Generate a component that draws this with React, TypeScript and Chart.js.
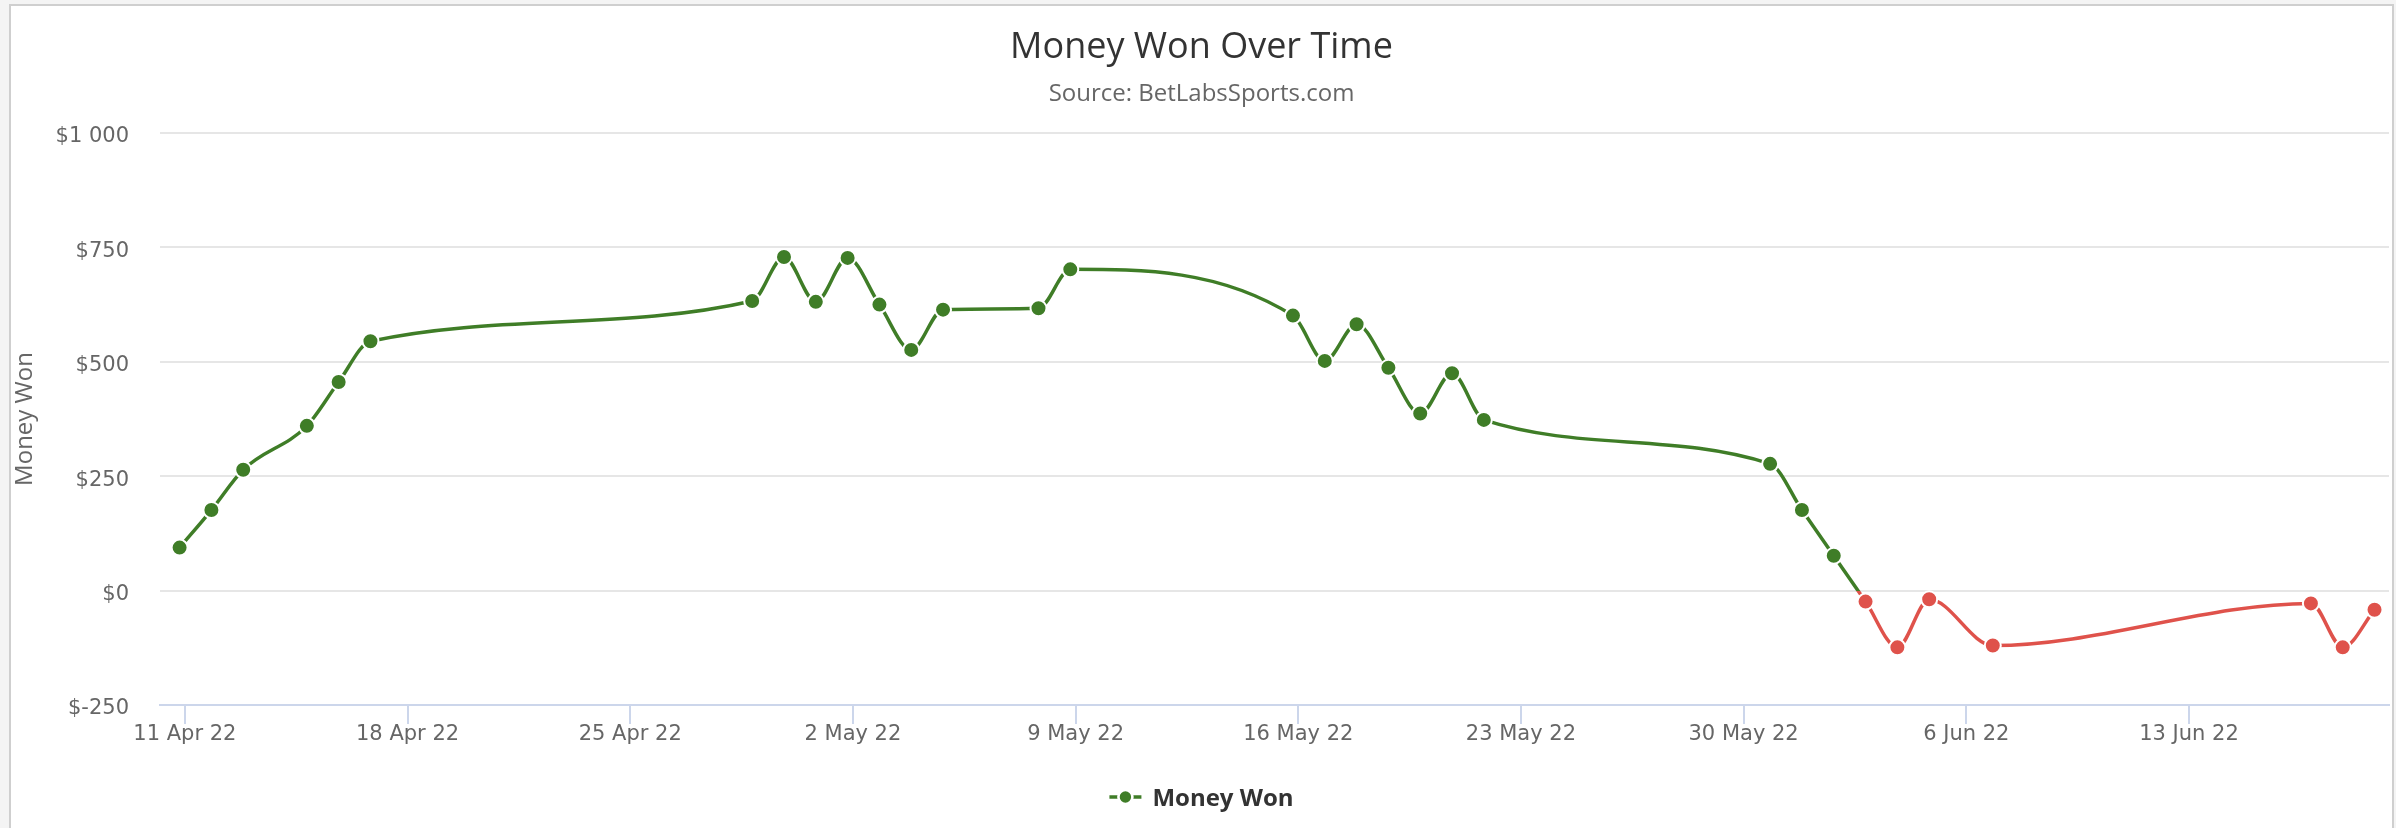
import React, { useEffect, useRef } from "react";
import { Chart, registerables } from "chart.js";

Chart.register(...registerables);

// ---- Data ----
const dates: string[] = [
  "2022-04-11", "2022-04-12", "2022-04-13", "2022-04-15", "2022-04-16", "2022-04-17",
  "2022-04-29", "2022-04-30", "2022-05-01", "2022-05-02", "2022-05-03", "2022-05-04",
  "2022-05-05", "2022-05-08", "2022-05-09", "2022-05-16", "2022-05-17", "2022-05-18",
  "2022-05-19", "2022-05-20", "2022-05-21", "2022-05-22", "2022-05-31", "2022-06-01",
  "2022-06-02", "2022-06-03", "2022-06-04", "2022-06-05", "2022-06-07", "2022-06-17",
  "2022-06-18", "2022-06-19",
];

const moneyWon: number[] = [
  94, 176, 264, 360, 456, 545,
  633, 729, 631, 727, 625, 526,
  614, 617, 702, 601, 502, 582,
  487, 387, 475, 373, 277, 176,
  76, -24, -124, -19, -120, -28,
  -124, -42,
];

const xTickLabels: string[] = [
  "11 Apr 22", "18 Apr 22", "25 Apr 22", "2 May 22", "9 May 22",
  "16 May 22", "23 May 22", "30 May 22", "6 Jun 22", "13 Jun 22",
];

const yTickValues: number[] = [-250, 0, 250, 500, 750, 1000];
const yTickLabels: string[] = ["$-250", "$0", "$250", "$500", "$750", "$1 000"];

const TITLE = "Money Won Over Time";
const SUBTITLE = "Source: BetLabsSports.com";
const SERIES_NAME = "Money Won";
const Y_TITLE = "Money Won";

// ---- Style constants ----
const GREEN = "#3f7d27";
const RED = "#df524b";
const TICK_SHIFT_DAYS = 4 / 24; // local-midnight ticks vs. UTC data timestamps
const X_MIN = -0.616;
const X_MAX = 69.455;
const VISIBLE_W = 2381;
const CANVAS_W = 2388;
const CANVAS_H = 822;

export default function App() {
  const canvasRef = useRef<HTMLCanvasElement | null>(null);

  useEffect(() => {
    const canvas = canvasRef.current;
    if (!canvas) return;

    const day0 = Date.parse(dates[0]);
    const points = dates.map((d, i) => ({
      x: (Date.parse(d) - day0) / 86400000,
      y: moneyWon[i],
    }));

    const legendPlugin = {
      id: "hcLegend",
      afterDraw(chart: any) {
        const ctx: CanvasRenderingContext2D = chart.ctx;
        ctx.save();
        ctx.font = "bold 24px 'Open Sans'";
        const tw = ctx.measureText(SERIES_NAME).width;
        const total = 43 + tw;
        const tb = chart.titleBlock;
        const cx = tb ? (tb.left + tb.right) / 2 : VISIBLE_W / 2;
        const x0 = cx - total / 2;
        const cy = 791;
        ctx.strokeStyle = GREEN;
        ctx.lineWidth = 3.5;
        ctx.beginPath();
        ctx.moveTo(x0, cy);
        ctx.lineTo(x0 + 32, cy);
        ctx.stroke();
        ctx.beginPath();
        ctx.arc(x0 + 16, cy, 7, 0, Math.PI * 2);
        ctx.fillStyle = GREEN;
        ctx.fill();
        ctx.lineWidth = 2.6;
        ctx.strokeStyle = "#ffffff";
        ctx.stroke();
        ctx.fillStyle = "#333333";
        ctx.textAlign = "left";
        ctx.textBaseline = "alphabetic";
        ctx.fillText(SERIES_NAME, x0 + 43, 800);
        ctx.restore();
      },
    };

    const tickFont = { family: "'DejaVu Sans'", size: 21 };

    const chart = new Chart(canvas, {
      type: "line",
      data: {
        datasets: [
          {
            label: SERIES_NAME,
            data: points,
            borderWidth: 3.5,
            cubicInterpolationMode: "monotone",
            fill: false,
            clip: 12,
            borderColor: (c: any) => {
              const ch = c.chart;
              const area = ch.chartArea;
              if (!area || !ch.scales || !ch.scales.y) return GREEN;
              const y0 = ch.scales.y.getPixelForValue(0);
              const g = ch.ctx.createLinearGradient(0, area.top, 0, area.bottom);
              const f = Math.min(1, Math.max(0, (y0 - area.top) / (area.bottom - area.top)));
              g.addColorStop(0, GREEN);
              g.addColorStop(f, GREEN);
              g.addColorStop(f, RED);
              g.addColorStop(1, RED);
              return g;
            },
            pointRadius: 8,
            pointHoverRadius: 8,
            pointBorderWidth: 2,
            pointHoverBorderWidth: 2,
            pointBorderColor: "#ffffff",
            pointBackgroundColor: (c: any) =>
              c.parsed && c.parsed.y < 0 ? RED : GREEN,
          } as any,
        ],
      },
      options: {
        animation: false,
        responsive: false,
        events: [],
        layout: { padding: { top: 0, left: 0, right: CANVAS_W - VISIBLE_W, bottom: 83 } },
        plugins: {
          legend: { display: false },
          tooltip: { enabled: false },
          title: {
            display: true,
            text: TITLE,
            color: "#333333",
            font: { family: "'Open Sans'", size: 36, weight: "normal" },
            padding: { top: 20.4, bottom: 0 },
          },
          subtitle: {
            display: true,
            text: SUBTITLE,
            color: "#666666",
            font: { family: "'Open Sans'", size: 24, weight: "normal" },
            padding: { top: 9.7, bottom: 24.9 },
          },
        },
        scales: {
          x: {
            type: "linear",
            min: X_MIN,
            max: X_MAX,
            afterBuildTicks: (scale: any) => {
              scale.ticks = xTickLabels.map((_, i) => ({ value: TICK_SHIFT_DAYS + 7 * i }));
            },
            afterFit: (scale: any) => {
              scale.height = 40;
            },
            ticks: {
              autoSkip: false,
              maxRotation: 0,
              minRotation: 0,
              padding: -2,
              color: "#666666",
              font: tickFont,
              callback: (_v: any, i: number) => xTickLabels[i],
            },
            grid: {
              display: true,
              drawOnChartArea: false,
              drawTicks: true,
              tickLength: 19,
              color: "#ccd6eb",
              lineWidth: 2,
            },
            border: { display: true, color: "#ccd6eb", width: 2 },
          },
          y: {
            type: "linear",
            min: -250,
            max: 1000,
            afterBuildTicks: (scale: any) => {
              scale.ticks = yTickValues.map((v) => ({ value: v }));
            },
            afterFit: (scale: any) => {
              scale.width = 149;
            },
            ticks: {
              padding: 31,
              labelOffset: 4,
              color: "#666666",
              font: tickFont,
              callback: (_v: any, i: number) => yTickLabels[i],
            },
            grid: { color: "#e6e6e6", lineWidth: 2, drawTicks: false },
            border: { display: false },
            title: {
              display: true,
              text: Y_TITLE,
              color: "#666666",
              font: { family: "'Open Sans'", size: 24, weight: "normal" },
              padding: 0,
            },
          },
        },
      } as any,
      plugins: [legendPlugin],
    });

    return () => chart.destroy();
  }, []);

  return (
    <div style={{ position: "fixed", left: 0, top: 0, right: 0, bottom: 0, background: "#f4f4f4", overflow: "hidden" }}>
      <div
        style={{
          position: "absolute",
          left: 9,
          top: 4,
          width: VISIBLE_W,
          height: 830,
          overflow: "hidden",
          background: "#ffffff",
          borderLeft: "2px solid #cfcfcf",
          borderTop: "2px solid #cfcfcf",
          borderRight: "2px solid #cfcfcf",
        }}
      >
        <canvas
          ref={canvasRef}
          width={CANVAS_W}
          height={CANVAS_H}
          style={{ display: "block", width: CANVAS_W, height: CANVAS_H }}
        />
      </div>
    </div>
  );
}
